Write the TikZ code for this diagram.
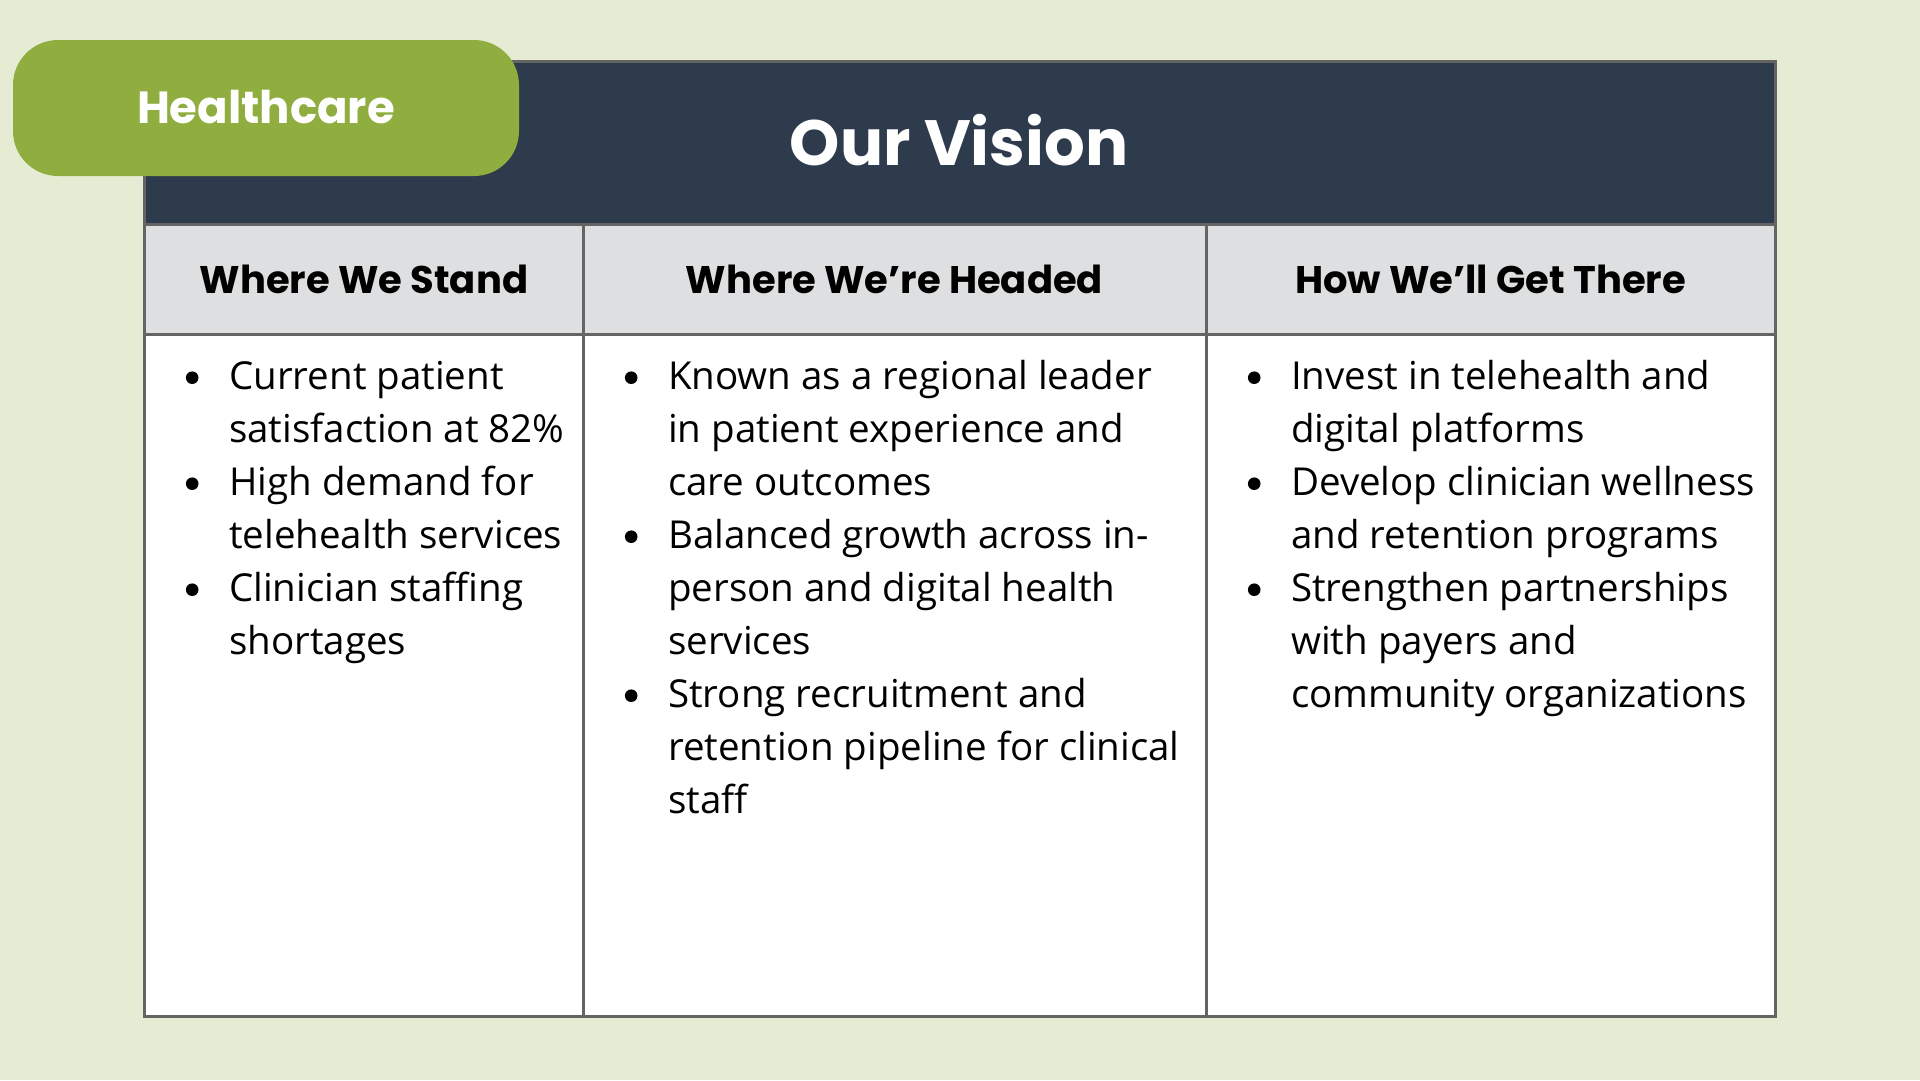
\documentclass[tikz,border=0pt]{standalone}
\usepackage{fontspec}
\setmainfont{Open Sans}
\newfontfamily\pop{Poppins}
\usepackage{array}
\definecolor{bgc}{HTML}{E6ECD4}
\definecolor{greentab}{HTML}{8FAE3F}
\definecolor{darkhead}{HTML}{2E3B4D}
\definecolor{grayhead}{HTML}{DEDFE1}
\definecolor{bordc}{HTML}{646464}
\newcommand{\bitem}{\makebox[74pt]{\raisebox{5pt}{\tikz\fill[black] (0,0) circle[radius=6.3pt];}}}
\tikzset{
  gridline/.style={draw=bordc, line width=3pt},
  colhead/.style={font=\pop\bfseries\fontsize{38.5}{44}\selectfont, text=black, inner sep=0pt, anchor=center},
  body/.style={font=\fontsize{38.5}{53}\selectfont, text=black, inner sep=0pt, anchor=base west},
}
\begin{document}
\begin{tikzpicture}[x=1pt,y=-1pt]
\useasboundingbox (0,0) rectangle (1920,1080);
\fill[bgc] (0,0) rectangle (1920,1080);
% table
\fill[white] (144.5,61.5) rectangle (1775.5,1016.5);
\fill[darkhead] (144.5,61.5) rectangle (1775.5,224);
\fill[grayhead] (144.5,224) rectangle (1775.5,334);
\coordinate (tl) at (144.5,61.5);
\coordinate (br) at (1775.5,1016.5);
\coordinate (h1l) at (144.5,224);
\coordinate (h1r) at (1775.5,224);
\coordinate (h2l) at (144.5,334);
\coordinate (h2r) at (1775.5,334);
\coordinate (v1t) at (583,224);
\coordinate (v1b) at (583,1016.5);
\coordinate (v2t) at (1206,224);
\coordinate (v2b) at (1206,1016.5);
\draw[gridline] (h1l) -- (h1r);
\draw[gridline] (h2l) -- (h2r);
\draw[gridline] (v1t) -- (v1b);
\draw[gridline] (v2t) -- (v2b);
\draw[gridline] (tl) rectangle (br);
% green tab
\fill[greentab, rounded corners=45pt] (13,40) rectangle (519,176);
\node[font=\pop\bfseries\fontsize{45}{50}\selectfont, text=white, inner sep=0pt] (tab) at (266,107) {Healthcare};
\node[font=\pop\bfseries\fontsize{64}{72}\selectfont, text=white, inner sep=0pt] (title) at (959,140) {Our Vision};
% column headers
\node[colhead] (h1) at (364,279) {Where We Stand};
\node[colhead] (h2) at (894.5,279) {Where We’re Headed};
\node[colhead] (h3) at (1490.5,279) {How We’ll Get There};
% bodies
\node[body] (b1) at (155,389) {\begin{tabular}[t]{@{}l@{}l@{}}
\bitem & Current patient\\
 & satisfaction at 82\%\\
\bitem & High demand for\\
 & telehealth services\\
\bitem & Clinician staffing\\
 & shortages
\end{tabular}};
\node[body] (b2) at (594,389) {\begin{tabular}[t]{@{}l@{}l@{}}
\bitem & Known as a regional leader\\
 & in patient experience and\\
 & care outcomes\\
\bitem & Balanced growth across in-\\
 & person and digital health\\
 & services\\
\bitem & Strong recruitment and\\
 & retention pipeline for clinical\\
 & staff
\end{tabular}};
\node[body] (b3) at (1217,389) {\begin{tabular}[t]{@{}l@{}l@{}}
\bitem & Invest in telehealth and\\
 & digital platforms\\
\bitem & Develop clinician wellness\\
 & and retention programs\\
\bitem & Strengthen partnerships\\
 & with payers and\\
 & community organizations
\end{tabular}};
\end{tikzpicture}
\end{document}
